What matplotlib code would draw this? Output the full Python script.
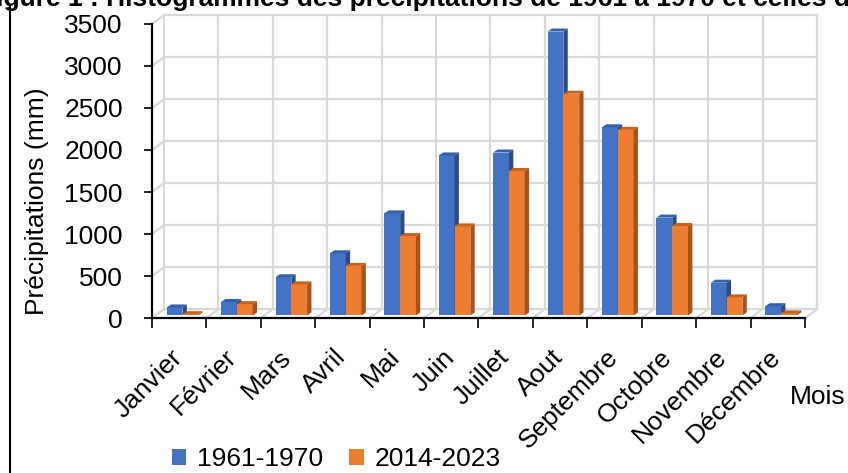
import matplotlib
matplotlib.use("Agg")
from matplotlib import pyplot as plt
from matplotlib import font_manager
from matplotlib.patches import Polygon, Patch
from matplotlib.lines import Line2D
from matplotlib.transforms import ScaledTranslation
import numpy as np

# Data
mois = ["Janvier", "Février", "Mars", "Avril", "Mai", "Juin", "Juillet", "Aout",
        "Septembre", "Octobre", "Novembre", "Décembre"]
p_1961_1970 = [95, 160, 455, 740, 1215, 1905, 1940, 3380, 2240, 1165, 390, 110]
p_2014_2023 = [15, 135, 370, 590, 945, 1060, 1720, 2640, 2210, 1065, 215, 25]
series_labels = ["1961-1970", "2014-2023"]
y_ticks = [0, 500, 1000, 1500, 2000, 2500, 3000, 3500]
titre = "Figure 1 : Histogrammes des précipitations de 1961 à 1970 et celles de 2014 à 2023"

# a narrow font looks closest to the original; otherwise use a smaller regular one
names = {f.name for f in font_manager.fontManager.ttflist}
if "Liberation Sans Narrow" in names:
    font, fs = "Liberation Sans Narrow", 23
else:
    font, fs = "Liberation Sans", 19
plt.rcParams["font.family"] = [font, "DejaVu Sans"]

blue, blue_side, blue_top = "#4472C4", "#2B4C86", "#3560AA"
orange, orange_side, orange_top = "#ED7D31", "#A5521C", "#C8621F"
grid_c = "#D9D9D9"

W, H = 848, 473
fig = plt.figure(figsize=(W / 100, H / 100), dpi=100)
ax = fig.add_axes([152 / W, 1 - 318 / H, 653 / W, 294 / H])
n = len(mois)
ax.set_xlim(0, n)
ax.set_ylim(0, 3500)

# 3D-like walls: back wall offset and floor / side wall diagonals
DX, DY = 0.22, 104
for y in y_ticks:
    ax.plot([DX, n + DX], [y + DY, y + DY], color=grid_c, lw=1.6, clip_on=False, zorder=0)
    ax.plot([0, DX], [y, y + DY], color=grid_c, lw=1.6, clip_on=False, zorder=0)
for x in range(n + 1):
    ax.plot([x + DX, x + DX], [DY, 3500 + DY], color=grid_c, lw=1.6, clip_on=False, zorder=0)
    ax.plot([x, x + DX], [0, DY], color=grid_c, lw=1.6, clip_on=False, zorder=0)

# bars with side and top faces
bx, by = 0.08, 36
x = np.arange(n)
series = [(p_1961_1970, 0.27, blue, blue_side, blue_top, 3),
          (p_2014_2023, 0.56, orange, orange_side, orange_top, 4)]
for vals, off, c, cs, ct, z in series:
    bars = ax.bar(x + off, vals, width=0.29, bottom=30, align="edge",
                  color=c, zorder=z, linewidth=0)
    for r in bars:
        xl, w = r.get_x(), r.get_width()
        yb, top = r.get_y(), r.get_y() + r.get_height()
        xr = xl + w
        ax.add_patch(Polygon([(xr, yb), (xr + bx, yb + by), (xr + bx, top + by), (xr, top)],
                             closed=True, color=cs, lw=0, zorder=z, clip_on=False))
        ax.add_patch(Polygon([(xl, top), (xl + bx, top + by), (xr + bx, top + by), (xr, top)],
                             closed=True, color=ct, lw=0, zorder=z, clip_on=False))

# axes
for s in ["top", "right"]:
    ax.spines[s].set_visible(False)
for s in ["left", "bottom"]:
    ax.spines[s].set_linewidth(1.6)
    ax.spines[s].set_color("black")
    ax.spines[s].set_zorder(5)
ax.set_yticks(y_ticks)
ax.tick_params(axis="y", direction="out", length=6, width=1.2, pad=15, labelsize=fs)
ax.set_xticks(np.arange(n + 1), minor=True)
ax.tick_params(axis="x", which="minor", direction="out", length=7, width=1.2)
ax.set_xticks(x + 0.5, mois)
ax.tick_params(axis="x", which="major", length=0, pad=0, labelsize=fs)
offset = ScaledTranslation(-0.09, -0.27, fig.dpi_scale_trans)
for lab in ax.get_xticklabels():
    lab.set_rotation(45)
    lab.set_ha("right")
    lab.set_va("top")
    lab.set_rotation_mode("anchor")
    lab.set_transform(lab.get_transform() + offset)

fig.text(37 / W, 1 - 201 / H, "Précipitations (mm)", rotation=90, ha="center",
         va="center", fontsize=fs)
fig.text(846 / W, 1 - 397 / H, "Mois", ha="right", va="center", fontsize=fs)
fig.text(-20 / W, 1 - 6 / H, titre, ha="left", va="baseline", fontsize=fs,
         fontweight="bold")
fig.add_artist(Line2D([10 / W, 10 / W], [0, 1 - 5 / H], color="black", lw=1.5))

handles = [Patch(facecolor=blue), Patch(facecolor=orange)]
fig.legend(handles, series_labels, loc="center", bbox_to_anchor=(336 / W, 1 - 459 / H),
           ncol=2, frameon=False, fontsize=fs, handlelength=0.55, handleheight=0.55,
           handletextpad=0.4, columnspacing=1.0, borderpad=0)

fig.savefig("out.png", dpi=100)
